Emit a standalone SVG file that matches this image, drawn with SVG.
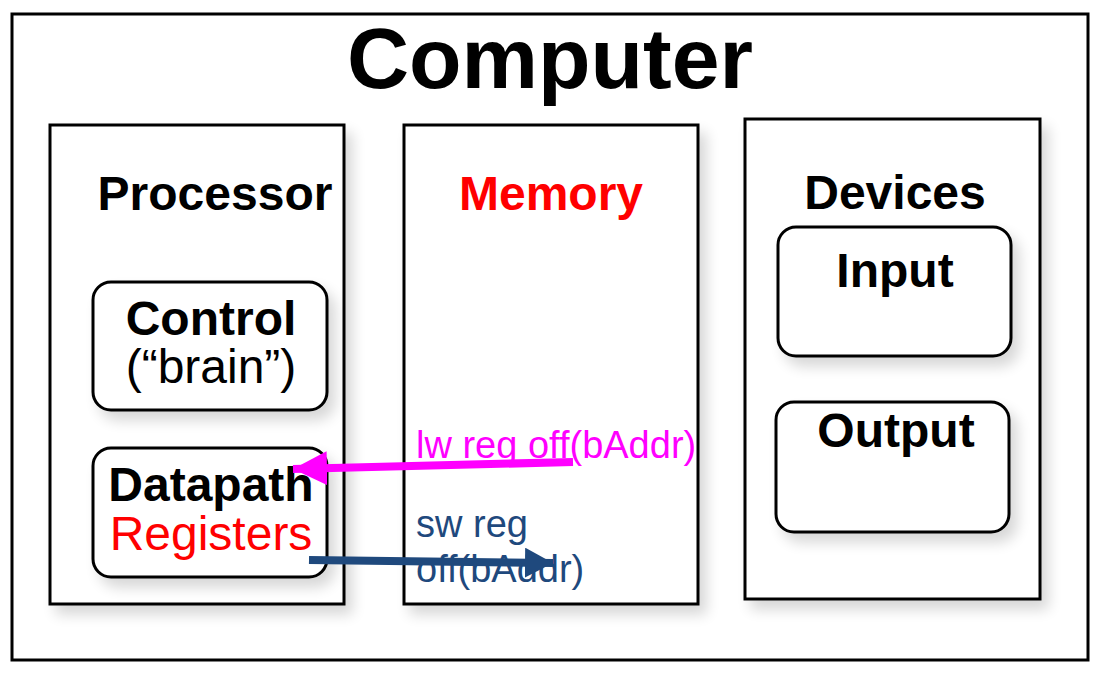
<svg xmlns="http://www.w3.org/2000/svg" width="1098" height="680" viewBox="0 0 1098 680">
<defs>
<filter id="sh" x="-20%" y="-20%" width="150%" height="150%">
<feGaussianBlur in="SourceAlpha" stdDeviation="7"/>
<feOffset dx="7" dy="9" result="b"/>
<feComponentTransfer><feFuncA type="linear" slope="0.16"/></feComponentTransfer>
<feMerge><feMergeNode/><feMergeNode in="SourceGraphic"/></feMerge>
</filter>
<marker id="ahM" markerUnits="userSpaceOnUse" markerWidth="36" markerHeight="34" refX="34" refY="17" orient="auto">
<path d="M0,0 L34,17 L0,34 Z" fill="#FF00FF"/>
</marker>
<marker id="ahB" markerUnits="userSpaceOnUse" markerWidth="30" markerHeight="30" refX="28" refY="15" orient="auto">
<path d="M0,0 L28,15 L0,30 Z" fill="#1F497D"/>
</marker>
</defs>
<style>
.box{fill:#fff;stroke:#000;stroke-width:3}
.rbox{fill:#fff;stroke:#000;stroke-width:3}
.b{font-family:"Liberation Sans",Arial,sans-serif;font-weight:bold;text-anchor:middle}
.r{font-family:"Liberation Sans",Arial,sans-serif;text-anchor:middle}
.l{font-family:"Liberation Sans",Arial,sans-serif;font-size:38px}
</style>
<rect width="1098" height="680" fill="#fff"/>
<g id="computer">
<rect class="box" x="12" y="14" width="1076" height="646"/>
<text class="b" x="550" y="88" font-size="86">Computer</text>
</g>
<g id="processor">
<rect class="box" x="50" y="125" width="294" height="479" filter="url(#sh)"/>
<text class="b" x="215" y="210" font-size="48">Processor</text>
</g>
<g id="memory">
<rect class="box" x="404" y="125" width="294" height="479" filter="url(#sh)"/>
<text class="b" x="551" y="210" font-size="48" fill="#FF0000">Memory</text>
</g>
<g id="devices">
<rect class="box" x="745" y="119" width="295" height="480" filter="url(#sh)"/>
<text class="b" x="895" y="209" font-size="48">Devices</text>
</g>
<g id="control">
<rect class="rbox" x="93" y="282" width="234" height="128" rx="18" filter="url(#sh)"/>
<text class="b" x="211" y="335" font-size="48">Control</text>
<text class="r" x="211" y="383" font-size="48">(“brain”)</text>
</g>
<g id="datapath">
<rect class="rbox" x="93" y="448" width="234" height="129" rx="18" filter="url(#sh)"/>
<text class="b" x="211" y="501" font-size="48">Datapath</text>
<text class="r" x="211" y="550" font-size="48" fill="#FF0000">Registers</text>
</g>
<g id="input">
<rect class="rbox" x="778" y="227" width="233" height="129" rx="18" filter="url(#sh)"/>
<text class="b" x="895" y="287" font-size="48">Input</text>
</g>
<g id="output">
<rect class="rbox" x="776" y="402" width="233" height="130" rx="18" filter="url(#sh)"/>
<text class="b" x="896" y="447" font-size="48">Output</text>
</g>
<g id="labels">
<text class="l" x="416" y="458" fill="#FF00FF">lw reg off(bAddr)</text>
<text class="l" x="416" y="537" fill="#1F497D">sw reg</text>
<text class="l" x="416" y="582" fill="#1F497D">off(bAddr)</text>
</g>
<g id="connectors">
<line x1="573" y1="462" x2="293" y2="469" stroke="#FF00FF" stroke-width="8" marker-end="url(#ahM)"/>
<line x1="309" y1="560" x2="553" y2="563" stroke="#1F497D" stroke-width="8" marker-end="url(#ahB)"/>
</g>
</svg>
